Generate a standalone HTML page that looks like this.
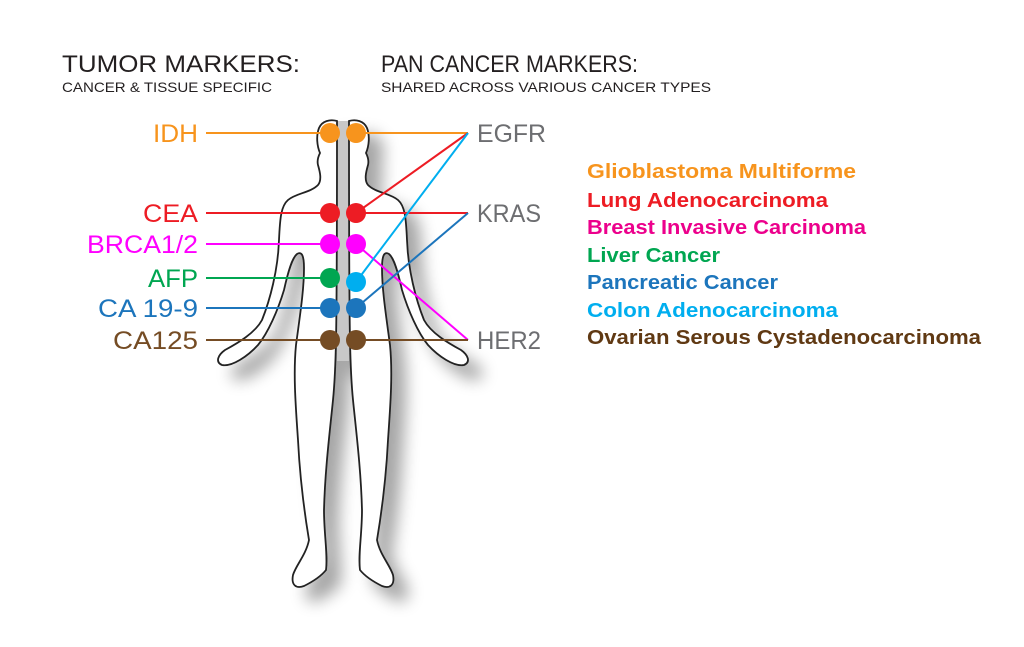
<!DOCTYPE html>
<html><head><meta charset="utf-8"><style>
html,body{margin:0;padding:0;background:#fff;}
svg{display:block;}
text{font-family:"Liberation Sans",sans-serif;}
</style></head><body>
<svg width="1024" height="647" viewBox="0 0 1024 647" xmlns="http://www.w3.org/2000/svg">
<defs>
<filter id="sh" x="-40%" y="-10%" width="180%" height="130%">
<feGaussianBlur in="SourceAlpha" stdDeviation="8"/>
<feOffset dx="14" dy="14" result="b"/>
<feComponentTransfer><feFuncA type="linear" slope="0.35"/></feComponentTransfer>
<feMerge><feMergeNode/><feMergeNode in="SourceGraphic"/></feMerge>
</filter>
<path id="half" d="M337,121 C330,119 322,121 319,128 C316,136 317,146 320,153 C318,157 317,161 318,165 C320,172 322,180 318,185 C310,193 296,193 288,200 C281,206 280,218 279,240 C278,270 270,300 262,320 C255,333 238,343 225,350 C218,355 215,362 222,365 C232,367 248,356 258,345 C268,333 278,310 284,290 C288,272 292,258 297,254 C302,251 304,256 304,268 C304,290 300,315 296,345 C293,375 296,410 298,440 C300,480 304,510 309,540 C306,555 296,565 293,575 C291,585 296,589 304,586 C314,581 322,575 326,570 C328,555 324,535 324,510 C325,470 330,430 333,400 C336,370 337,345 337,121 Z"/>
</defs>
<g filter="url(#sh)">
<rect x="337" y="121" width="12" height="240" fill="#c8c8c8"/>
<use href="#half" fill="#fff" stroke="#222" stroke-width="1.8"/>
<use href="#half" transform="translate(686,0) scale(-1,1)" fill="#fff" stroke="#222" stroke-width="1.8"/>
</g>
<rect x="338.5" y="124" width="9" height="228" fill="#c8c8c8"/>

<g stroke-width="2" fill="none">
<line x1="206" y1="133" x2="330" y2="133" stroke="#f7941d"/>
<line x1="356" y1="133" x2="468" y2="133" stroke="#f7941d"/>
<line x1="206" y1="213" x2="330" y2="213" stroke="#ed1c24"/>
<line x1="356" y1="213" x2="468" y2="213" stroke="#ed1c24"/>
<line x1="356" y1="213" x2="468" y2="133" stroke="#ed1c24"/>
<line x1="206" y1="244" x2="330" y2="244" stroke="#ff00ff"/>
<line x1="356" y1="244" x2="468" y2="340" stroke="#ff00ff"/>
<line x1="206" y1="278" x2="330" y2="278" stroke="#00a651"/>
<line x1="356" y1="282" x2="468" y2="133" stroke="#00aeef"/>
<line x1="206" y1="308" x2="330" y2="308" stroke="#1c75bc"/>
<line x1="356" y1="308" x2="468" y2="213" stroke="#1c75bc"/>
<line x1="206" y1="340" x2="330" y2="340" stroke="#754c24"/>
<line x1="356" y1="340" x2="468" y2="340" stroke="#754c24"/>
</g>
<g>
<circle cx="330" cy="133" r="10" fill="#f7941d"/><circle cx="356" cy="133" r="10" fill="#f7941d"/>
<circle cx="330" cy="213" r="10" fill="#ed1c24"/><circle cx="356" cy="213" r="10" fill="#ed1c24"/>
<circle cx="330" cy="244" r="10" fill="#ff00ff"/><circle cx="356" cy="244" r="10" fill="#ff00ff"/>
<circle cx="330" cy="278" r="10" fill="#00a651"/><circle cx="356" cy="282" r="10" fill="#00aeef"/>
<circle cx="330" cy="308" r="10" fill="#1c75bc"/><circle cx="356" cy="308" r="10" fill="#1c75bc"/>
<circle cx="330" cy="340" r="10" fill="#754c24"/><circle cx="356" cy="340" r="10" fill="#754c24"/>
</g>

<text x="62" y="72" font-size="24" fill="#231f20" textLength="238" lengthAdjust="spacingAndGlyphs">TUMOR MARKERS:</text>
<text x="62" y="92" font-size="14" fill="#231f20" textLength="210" lengthAdjust="spacingAndGlyphs">CANCER &amp; TISSUE SPECIFIC</text>
<text x="381" y="72" font-size="24" fill="#231f20" textLength="257" lengthAdjust="spacingAndGlyphs">PAN CANCER MARKERS:</text>
<text x="381" y="92" font-size="14" fill="#231f20" textLength="330" lengthAdjust="spacingAndGlyphs">SHARED ACROSS VARIOUS CANCER TYPES</text>

<g font-size="25">
<text x="153" y="142" fill="#f7941d" textLength="45" lengthAdjust="spacingAndGlyphs">IDH</text>
<text x="143" y="222" fill="#ed1c24" textLength="55" lengthAdjust="spacingAndGlyphs">CEA</text>
<text x="87" y="253" fill="#ff00ff" textLength="111" lengthAdjust="spacingAndGlyphs">BRCA1/2</text>
<text x="148" y="287" fill="#00a651" textLength="50" lengthAdjust="spacingAndGlyphs">AFP</text>
<text x="98" y="317" fill="#1c75bc" textLength="100" lengthAdjust="spacingAndGlyphs">CA 19-9</text>
<text x="113" y="349" fill="#754c24" textLength="85" lengthAdjust="spacingAndGlyphs">CA125</text>
<text x="477" y="142" fill="#6d6e71" textLength="69" lengthAdjust="spacingAndGlyphs">EGFR</text>
<text x="477" y="222" fill="#6d6e71" textLength="64" lengthAdjust="spacingAndGlyphs">KRAS</text>
<text x="477" y="349" fill="#6d6e71" textLength="64" lengthAdjust="spacingAndGlyphs">HER2</text>
</g>

<g font-size="20" font-weight="bold">
<text x="587" y="178" fill="#f7941d" textLength="269" lengthAdjust="spacingAndGlyphs">Glioblastoma Multiforme</text>
<text x="587" y="207" fill="#ed1c24" textLength="241" lengthAdjust="spacingAndGlyphs">Lung Adenocarcinoma</text>
<text x="587" y="234" fill="#ec008c" textLength="279" lengthAdjust="spacingAndGlyphs">Breast Invasive Carcinoma</text>
<text x="587" y="262" fill="#00a651" textLength="133" lengthAdjust="spacingAndGlyphs">Liver Cancer</text>
<text x="587" y="289" fill="#1c75bc" textLength="191" lengthAdjust="spacingAndGlyphs">Pancreatic Cancer</text>
<text x="587" y="317" fill="#00aeef" textLength="251" lengthAdjust="spacingAndGlyphs">Colon Adenocarcinoma</text>
<text x="587" y="344" fill="#603913" textLength="394" lengthAdjust="spacingAndGlyphs">Ovarian Serous Cystadenocarcinoma</text>
</g>
</svg>
</body></html>
